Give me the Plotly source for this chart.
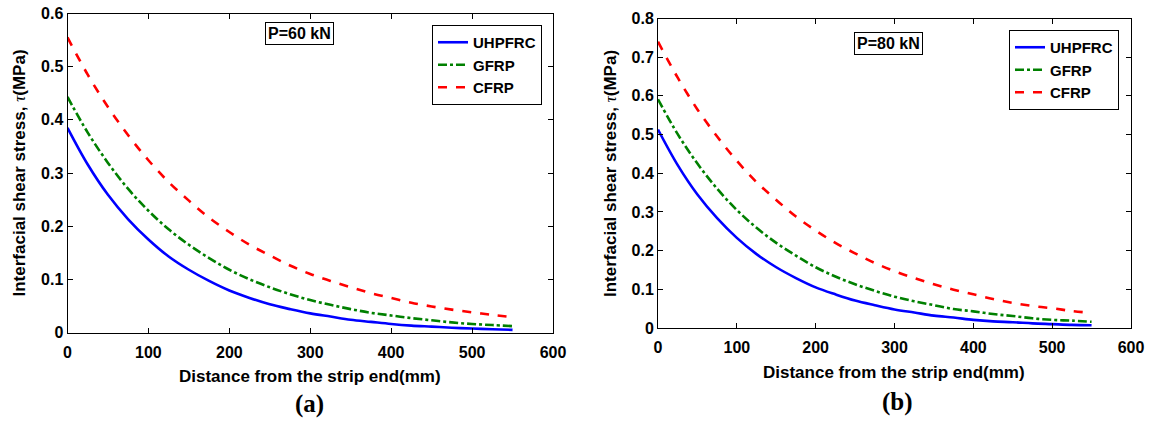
import plotly.graph_objects as go

# distance from strip end (mm)
dist = [0, 25, 50, 75, 100, 125, 150, 175, 200, 225, 250, 275, 300,
        325, 350, 375, 400, 425, 450, 475, 500, 525, 550]

series_names = ["UHPFRC", "GFRP", "CFRP"]

# P = 60 kN
uhpfrc_60 = [0.385, 0.316, 0.259, 0.213, 0.175, 0.143, 0.118, 0.097, 0.079, 0.065, 0.053, 0.044, 0.036,
             0.030, 0.024, 0.020, 0.016, 0.013, 0.011, 0.009, 0.0074, 0.0061, 0.005]
gfrp_60 = [0.443, 0.376, 0.319, 0.270, 0.229, 0.194, 0.165, 0.140, 0.118, 0.100, 0.085, 0.072, 0.061,
           0.052, 0.044, 0.037, 0.032, 0.027, 0.023, 0.019, 0.016, 0.014, 0.012]
cfrp_60 = [0.555, 0.485, 0.424, 0.371, 0.324, 0.283, 0.248, 0.216, 0.189, 0.165, 0.145, 0.126, 0.110,
           0.097, 0.085, 0.074, 0.065, 0.056, 0.049, 0.043, 0.038, 0.033, 0.029]

# P = 80 kN
uhpfrc_80 = [0.513, 0.421, 0.345, 0.284, 0.233, 0.191, 0.157, 0.129, 0.105, 0.087, 0.071, 0.059, 0.048,
             0.040, 0.032, 0.027, 0.021, 0.017, 0.015, 0.012, 0.010, 0.008, 0.007]
gfrp_80 = [0.591, 0.501, 0.425, 0.360, 0.305, 0.259, 0.220, 0.187, 0.157, 0.133, 0.113, 0.096, 0.081,
           0.069, 0.059, 0.049, 0.043, 0.036, 0.031, 0.025, 0.021, 0.019, 0.016]
cfrp_80 = [0.740, 0.647, 0.565, 0.495, 0.432, 0.377, 0.331, 0.288, 0.252, 0.220, 0.193, 0.168, 0.147,
           0.129, 0.113, 0.099, 0.087, 0.075, 0.065, 0.057, 0.051, 0.044, 0.039]

colors = ["#0000ff", "#008000", "#ff0000"]
dashes = ["solid", "dashdot", "dash"]

W, H = 1150, 423
FONT = "Liberation Sans, Arial, sans-serif"


def px_x(v):
    return v / W


def px_y(v):
    return 1 - v / H


fig = go.Figure()

panels = [
    ([uhpfrc_60, gfrp_60, cfrp_60], "x", "y", "legend"),
    ([uhpfrc_80, gfrp_80, cfrp_80], "x2", "y2", "legend2"),
]
for data, xa, ya, leg in panels:
    for name, vals, c, d in zip(series_names, data, colors, dashes):
        fig.add_trace(go.Scatter(x=dist, y=vals, name=name, mode="lines",
                                 line=dict(color=c, dash=d, width=2.6, shape="spline"),
                                 xaxis=xa, yaxis=ya, legend=leg))

axis_common = dict(showline=True, linecolor="black", linewidth=1, mirror="ticks",
                   ticks="inside", ticklen=5, tickcolor="black", showgrid=False,
                   zeroline=False, automargin=False,
                   tickfont=dict(family=FONT, size=16, color="black", weight="bold"))

leg_common = dict(xanchor="right", yanchor="top", bordercolor="black", borderwidth=1,
                  bgcolor="white", font=dict(family=FONT, size=15, weight="bold"),
                  tracegroupgap=0, itemwidth=30)

fig.update_layout(
    width=W, height=H,
    margin=dict(l=0, r=0, t=0, b=0, autoexpand=False),
    plot_bgcolor="white", paper_bgcolor="white",
    font=dict(family=FONT, color="black"),
    xaxis=dict(domain=[px_x(67.5), px_x(553)], range=[0, 600], dtick=100, anchor="y",
               ticklabelstandoff=5, **axis_common),
    yaxis=dict(domain=[px_y(332.5), px_y(13.5)], range=[0, 0.6], dtick=0.1, anchor="x", **axis_common),
    xaxis2=dict(domain=[px_x(658), px_x(1131)], range=[0, 600], dtick=100, anchor="y2",
                ticklabelstandoff=5, **axis_common),
    yaxis2=dict(domain=[px_y(328), px_y(18.5)], range=[0, 0.8], dtick=0.1, anchor="x2", **axis_common),
    legend=dict(x=px_x(542), y=px_y(25), **leg_common),
    legend2=dict(x=px_x(1119), y=px_y(30), **leg_common),
    showlegend=True,
)

ann = []
# load boxes
for txt, cx, cy in [("P=60 kN", 299.5, 33.5), ("P=80 kN", 888, 43.5)]:
    ann.append(dict(text=txt, x=px_x(cx), y=px_y(cy), xref="paper", yref="paper",
                    xanchor="center", yanchor="middle",
                    showarrow=False, font=dict(family=FONT, size=16, weight="bold"),
                    bordercolor="black", borderwidth=1, borderpad=2, bgcolor="white"))
# x titles
for cx, cy in [(310, 376), (894, 372)]:
    ann.append(dict(text="Distance from the strip end(mm)", x=px_x(cx), y=px_y(cy),
                    xref="paper", yref="paper", showarrow=False,
                    xanchor="center", yanchor="middle",
                    font=dict(family=FONT, size=17, weight="bold")))
# y titles
for cx, cy in [(18.5, 173), (611, 174)]:
    ann.append(dict(text="Interfacial shear stress, <span style='font-weight:normal;font-family:Liberation Serif'><i>τ</i></span>(MPa)",
                    x=px_x(cx), y=px_y(cy), xref="paper", yref="paper", showarrow=False,
                    xanchor="center", yanchor="middle",
                    textangle=-90, font=dict(family=FONT, size=17, weight="bold")))
# panel labels
for txt, cx, cy in [("(a)", 309, 404), ("(b)", 897, 402)]:
    ann.append(dict(text=txt, x=px_x(cx), y=px_y(cy), xref="paper", yref="paper",
                    showarrow=False, xanchor="center", yanchor="middle",
                    font=dict(family="Liberation Serif, Times New Roman, serif", size=25, weight="bold")))
fig.update_layout(annotations=ann)

# page has a default 8px body margin, remove it so the figure sits at 0,0
fig.write_html("out.html", config={"displayModeBar": False},
               post_script="document.body.style.margin='0';document.body.style.overflow='hidden';")
